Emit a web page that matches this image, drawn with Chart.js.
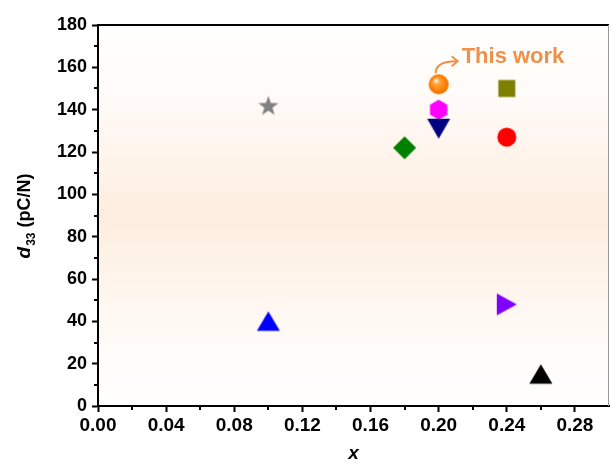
<!DOCTYPE html>
<html>
<head>
<meta charset="utf-8">
<script src="https://cdn.jsdelivr.net/npm/chart.js@4"></script>
<style>
    body { margin: 0; background: #fff; }
    canvas { display: block; }
</style>
</head>
<body>
<canvas id="d33Chart" width="611" height="468"></canvas>
<script>
// dados
const xValues = [0.10, 0.10, 0.18, 0.20, 0.20, 0.20, 0.24, 0.24, 0.24, 0.26];
const d33Values = [142, 40, 122, 131, 140, 152, 150, 127, 48, 15];
const markerKinds = ['star', 'triUp', 'diamond', 'triDown', 'hexagon', 'sphere', 'square', 'circle', 'triRight', 'triUp'];
const markerColors = ['#808080', '#0000ff', '#008000', '#000080', '#ff00ff', '#ff8000', '#808000', '#ff0000', '#8000ff', '#000000'];
const highlightIndex = 5;  // "This work"
const highlightLabel = 'This work';

const FONT = 'Arial, "Liberation Sans", sans-serif';
const ORANGE_TEXT = '#ef9048';

// cria o marcador num canvas pequeno
function makeMarker(kind, color) {
    const size = 26;
    const c = document.createElement('canvas');
    c.width = size;
    c.height = size;
    const ctx = c.getContext('2d');
    const cx = size / 2, cy = size / 2;
    ctx.fillStyle = color;
    ctx.beginPath();

    if (kind === 'star') {
        const outer = 10.5, inner = 4.3;
        for (let i = 0; i < 10; i++) {
            const r = i % 2 === 0 ? outer : inner;
            const a = -Math.PI / 2 + i * Math.PI / 5;
            ctx.lineTo(cx + r * Math.cos(a), cy + 1 + r * Math.sin(a));
        }
    } else if (kind === 'triUp') {
        ctx.moveTo(cx, cy - 10);
        ctx.lineTo(cx + 11.5, cy + 9.5);
        ctx.lineTo(cx - 11.5, cy + 9.5);
    } else if (kind === 'triDown') {
        ctx.moveTo(cx - 11.5, cy - 10);
        ctx.lineTo(cx + 11.5, cy - 10);
        ctx.lineTo(cx, cy + 10);
    } else if (kind === 'triRight') {
        ctx.moveTo(cx - 10, cy - 11);
        ctx.lineTo(cx + 10, cy);
        ctx.lineTo(cx - 10, cy + 11);
    } else if (kind === 'diamond') {
        ctx.moveTo(cx, cy - 11.5);
        ctx.lineTo(cx + 11.5, cy);
        ctx.lineTo(cx, cy + 11.5);
        ctx.lineTo(cx - 11.5, cy);
    } else if (kind === 'hexagon') {
        for (let i = 0; i < 6; i++) {
            const a = -Math.PI / 2 + i * Math.PI / 3;
            ctx.lineTo(cx + 10 * Math.cos(a), cy + 10 * Math.sin(a));
        }
    } else if (kind === 'square') {
        ctx.rect(cx - 8.5, cy - 8.5, 17, 17);
    } else if (kind === 'circle') {
        ctx.arc(cx, cy, 9.5, 0, Math.PI * 2);
    } else if (kind === 'sphere') {
        const g = ctx.createRadialGradient(cx - 3, cy - 4, 0.5, cx, cy, 10);
        g.addColorStop(0, '#fff6e8');
        g.addColorStop(0.3, '#ffa23f');
        g.addColorStop(0.75, color);
        g.addColorStop(1, '#e87000');
        ctx.fillStyle = g;
        ctx.arc(cx, cy, 10, 0, Math.PI * 2);
    }
    ctx.closePath();
    ctx.fill();
    return c;
}

const datasets = xValues.map((x, i) => ({
    data: [{ x: x, y: d33Values[i] }],
    pointStyle: makeMarker(markerKinds[i], markerColors[i]),
    showLine: false
}));

// fundo em degradê pêssego
const backgroundPlugin = {
    id: 'peachBackground',
    beforeDraw(chart) {
        const { ctx, chartArea: a } = chart;
        const g = ctx.createLinearGradient(0, a.top, 0, a.bottom);
        g.addColorStop(0, '#ffffff');
        g.addColorStop(0.18, '#fffbf8');
        g.addColorStop(0.5, '#fdeddf');
        g.addColorStop(0.82, '#fffaf6');
        g.addColorStop(1, '#ffffff');
        ctx.save();
        ctx.fillStyle = g;
        ctx.fillRect(a.left, a.top, a.right - a.left, a.bottom - a.top);
        ctx.restore();
    }
};

// ticks menores, moldura e títulos dos eixos
const decorPlugin = {
    id: 'decor',
    afterDraw(chart) {
        const { ctx, chartArea: a, scales } = chart;
        ctx.save();
        ctx.strokeStyle = '#000';
        ctx.lineWidth = 2;

        // ticks menores
        ctx.beginPath();
        for (let v = 10; v < 180; v += 20) {
            const py = Math.round(scales.y.getPixelForValue(v));
            ctx.moveTo(a.left, py);
            ctx.lineTo(a.left - 4, py);
        }
        for (let k = 1; k < 15; k += 2) {
            const px = Math.round(scales.x.getPixelForValue(k * 0.02));
            ctx.moveTo(px, a.bottom);
            ctx.lineTo(px, a.bottom + 4);
        }
        ctx.stroke();

        // moldura de cima e da direita
        ctx.beginPath();
        ctx.moveTo(a.left, a.top);
        ctx.lineTo(a.right, a.top);
        ctx.stroke();
        ctx.strokeStyle = '#9a9a9a';
        ctx.lineWidth = 1;
        ctx.beginPath();
        ctx.moveTo(a.right - 0.5, a.top);
        ctx.lineTo(a.right - 0.5, a.bottom);
        ctx.stroke();

        // título do eixo x
        ctx.fillStyle = '#000';
        ctx.font = `italic bold 19px ${FONT}`;
        ctx.textAlign = 'center';
        ctx.textBaseline = 'middle';
        ctx.fillText('x', (a.left + a.right) / 2, 454);

        // título do eixo y: d33 (pC/N)
        ctx.translate(24, 216);
        ctx.rotate(-Math.PI / 2);
        ctx.textAlign = 'left';
        ctx.textBaseline = 'alphabetic';
        const mainFont = `bold 18px ${FONT}`;
        const dFont = `italic bold 19px ${FONT}`;
        const subFont = `bold 12px ${FONT}`;
        ctx.font = dFont;
        const wD = ctx.measureText('d').width;
        ctx.font = subFont;
        const wSub = ctx.measureText('33').width;
        ctx.font = mainFont;
        const wRest = ctx.measureText(' (pC/N)').width;
        let x0 = -(wD + wSub + 1 + wRest) / 2;
        const base = 6;
        ctx.font = dFont;
        ctx.fillText('d', x0, base);
        x0 += wD + 1;
        ctx.font = subFont;
        ctx.fillText('33', x0, base + 5);
        x0 += wSub;
        ctx.font = mainFont;
        ctx.fillText(' (pC/N)', x0, base);
        ctx.restore();
    }
};

// seta e texto "This work"
const annotationPlugin = {
    id: 'thisWork',
    afterDatasetsDraw(chart) {
        const { ctx, scales } = chart;
        const px = scales.x.getPixelForValue(xValues[highlightIndex]);
        const py = scales.y.getPixelForValue(d33Values[highlightIndex]);
        ctx.save();
        ctx.strokeStyle = ORANGE_TEXT;
        ctx.lineWidth = 2;
        ctx.beginPath();
        ctx.moveTo(px - 3, py - 11);
        ctx.quadraticCurveTo(px - 3, py - 23, px + 18, py - 23);
        ctx.stroke();
        ctx.beginPath();
        ctx.moveTo(px + 13, py - 28);
        ctx.lineTo(px + 19, py - 23);
        ctx.lineTo(px + 13, py - 18);
        ctx.stroke();

        ctx.fillStyle = ORANGE_TEXT;
        ctx.font = `bold 22px ${FONT}`;
        ctx.textAlign = 'left';
        ctx.textBaseline = 'alphabetic';
        ctx.fillText(highlightLabel, px + 23, py - 21);
        ctx.restore();
    }
};

new Chart(document.getElementById('d33Chart'), {
    type: 'scatter',
    data: { datasets: datasets },
    options: {
        responsive: false,
        animation: false,
        layout: { autoPadding: false, padding: { top: 25, right: 2, bottom: 0, left: 0 } },
        elements: { point: { radius: 10 } },
        plugins: {
            legend: { display: false },
            tooltip: { enabled: false }
        },
        scales: {
            x: {
                type: 'linear',
                min: 0,
                max: 0.30,
                afterFit: s => { s.height = 62; s.paddingLeft = 0; s.paddingRight = 0; },
                ticks: {
                    stepSize: 0.04,
                    includeBounds: false,
                    autoSkip: false,
                    maxRotation: 0,
                    color: '#000',
                    font: { family: FONT, size: 19, weight: 'bold' },
                    padding: 2,
                    callback: v => Number(v).toFixed(2)
                },
                grid: { drawOnChartArea: false, tickLength: 6, tickWidth: 2, tickColor: '#000' },
                border: { color: '#000', width: 2 }
            },
            y: {
                min: 0,
                max: 180,
                afterFit: s => { s.width = 98; },
                ticks: {
                    stepSize: 20,
                    color: '#000',
                    font: { family: FONT, size: 18, weight: 'bold' },
                    padding: 5,
                    callback: v => String(v)
                },
                grid: { drawOnChartArea: false, tickLength: 6, tickWidth: 2, tickColor: '#000' },
                border: { color: '#000', width: 2 }
            }
        }
    },
    plugins: [backgroundPlugin, decorPlugin, annotationPlugin]
});
</script>
</body>
</html>
